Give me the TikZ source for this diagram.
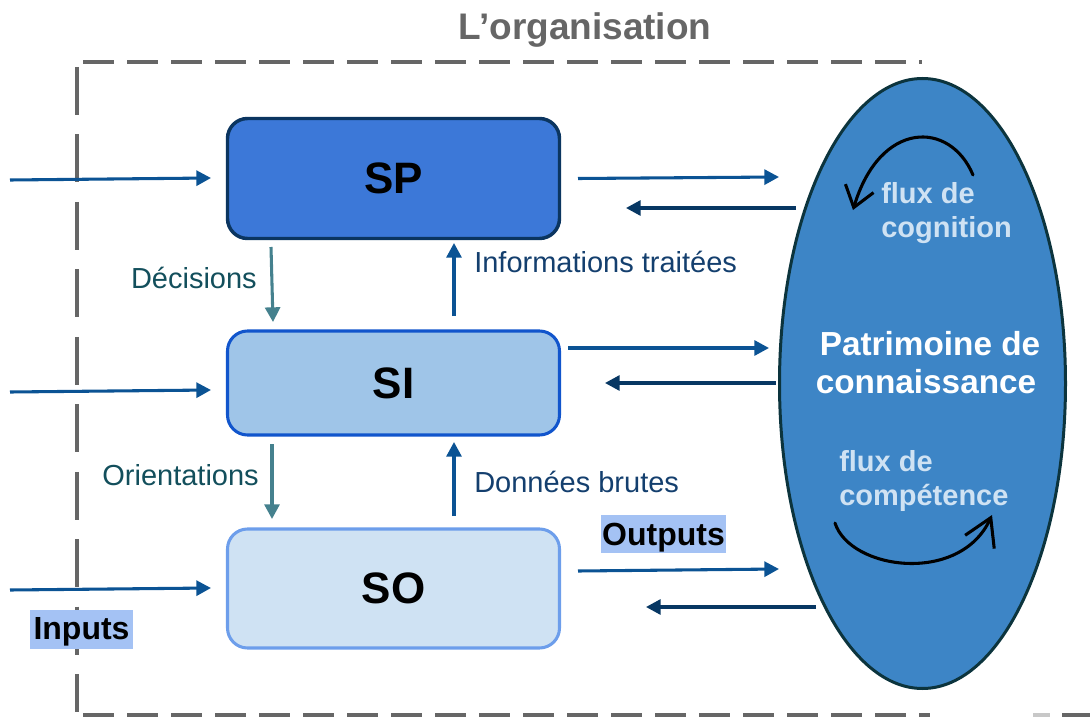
\documentclass[tikz,border=0pt]{standalone}
\usepackage{fontspec}
\setmainfont{Liberation Sans}
\usetikzlibrary{arrows.meta,shapes.geometric,calc}

\definecolor{frame}{HTML}{666666}
\definecolor{framelight}{HTML}{C8C8C8}
\definecolor{spfill}{HTML}{3C78D8}
\definecolor{spline}{HTML}{0B3560}
\definecolor{sifill}{HTML}{9FC5E8}
\definecolor{siline}{HTML}{1155CC}
\definecolor{sofill}{HTML}{CFE2F3}
\definecolor{soline}{HTML}{6D9EEB}
\definecolor{knfill}{HTML}{3D85C6}
\definecolor{knline}{HTML}{0C343D}
\definecolor{arrblue}{HTML}{0B5394}
\definecolor{arrnavy}{HTML}{073763}
\definecolor{arrteal}{HTML}{45818E}
\definecolor{txtteal}{HTML}{134F5C}
\definecolor{txtnavy}{HTML}{143F6E}
\definecolor{paleblue}{HTML}{CFE2F3}
\definecolor{hilite}{HTML}{A4C2F4}

\begin{document}
\begin{tikzpicture}[x=0.75pt,y=-0.75pt,
  framedash/.style={draw=frame, line width=3pt, dash pattern=on 23.25pt off 9.75pt},
  framedashv/.style={draw=frame, line width=3pt, dash pattern=on 36pt off 14.6pt},
  box/.style={rectangle, rounded corners=15pt, minimum width=249pt, inner sep=0pt,
    outer sep=0pt, line width=2.3pt, font=\fontsize{33pt}{36pt}\selectfont\bfseries},
  fwd/.style={draw=arrblue, line width=2.3pt, -{Triangle[length=11pt,width=11.25pt]}},
  bwd/.style={fwd, draw=arrnavy},
  vdown/.style={fwd, draw=arrteal},
  vup/.style={fwd},
  edgelbl/.style={inner sep=0pt, font=\fontsize{21.75pt}{26pt}\selectfont},
  fluxlbl/.style={inner sep=0pt, anchor=base west, text=paleblue,
    font=\fontsize{21.75pt}{26pt}\selectfont\bfseries},
  patlbl/.style={inner sep=0pt, anchor=base, text=white,
    font=\fontsize{25pt}{30pt}\selectfont\bfseries},
  hl/.style={fill=hilite, inner ysep=0pt, anchor=base,
    font=\fontsize{24pt}{28pt}\selectfont\bfseries},
  hand/.style={draw=black, line width=2.3pt, line cap=round}
]
\useasboundingbox (0,0) rectangle (1090,717);

% title
\node[anchor=base, text=frame, inner sep=0pt,
  font=\fontsize{27.75pt}{32pt}\selectfont\bfseries] (title) at (585,40) {L’organisation};

% dashed frame of the organisation
\draw[framedash] (83,62) -- (922,62);
\draw[framedashv] (77,67) -- (77,712);
\draw[framedash] (83,715) -- (930,715);
\draw[draw=framelight, line width=3pt] (1033,715) -- (1050,715);
\draw[draw=frame, line width=3pt] (1062,715) -- (1090,715);

% knowledge heritage
\node[ellipse, draw=knline, fill=knfill, line width=2.25pt, inner sep=0pt,
  minimum width=214.5pt, minimum height=457.5pt] (pk) at (922.5,383.5) {};
\node[fluxlbl] (cog1) at (881,203) {flux de};
\node[fluxlbl] (cog2) at (881,237) {cognition};
\node[patlbl] (pat1) at (930,355) {Patrimoine de};
\node[patlbl] (pat2) at (926,393) {connaissance};
\node[fluxlbl] (comp1) at (839,471) {flux de};
\node[fluxlbl] (comp2) at (839,505) {compétence};
\draw[hand, -{Straight Barb[length=15pt,width=22pt]}]
  (973,175) .. controls (950,120) and (880,120) .. (853,210);
\draw[hand, -{Straight Barb[length=20pt,width=24pt]}]
  (835,523) .. controls (850,570) and (960,585) .. (992,515);

% the three subsystems
\node[box, fill=spfill, draw=spline, line width=2.6pt, minimum height=90pt] (sp) at (393.5,178.5) {SP};
\node[box, fill=sifill, draw=siline, minimum height=78pt] (si) at (393.5,383) {SI};
\node[box, fill=sofill, draw=soline, minimum height=89.25pt] (so) at (393.5,588.5) {SO};

% inputs from the environment
\coordinate (inSP) at (10,180);
\coordinate (inSI) at (10,392);
\coordinate (inSO) at (10,590);
\draw[fwd] (inSP) -- ($(sp.west)+(-16.5,-0.5)$);
\draw[fwd] (inSI) -- ($(si.west)+(-16.5,7)$);
\draw[fwd] (inSO) -- ($(so.west)+(-16.5,-0.5)$);

% exchanges with the knowledge heritage
\coordinate (kSPin) at (779,177);
\coordinate (kSPout) at (796,208);
\coordinate (kSIin) at (769,348);
\coordinate (kSIout) at (776,383);
\coordinate (kSOin) at (779,569);
\coordinate (kSOout) at (816,607);
\draw[fwd] ($(sp.east)+(18.5,0)$) -- (kSPin);
\draw[bwd] (kSPout) -- ($(sp.east)+(66.5,29.5)$);
\draw[fwd] ($(si.east)+(8.5,-35)$) -- (kSIin);
\draw[bwd] (kSIout) -- ($(si.east)+(45.5,0)$);
\draw[fwd] ($(so.east)+(18.5,-17.5)$) -- (kSOin);
\draw[bwd] (kSOout) -- ($(so.east)+(86.5,18.5)$);

% vertical flows between subsystems
\draw[vdown] ($(sp.south west)+(43.5,8.5)$) -- ($(si.north west)+(45.5,-9)$);
\draw[vup] ($(si.north west)+(226.5,-15)$) -- ($(sp.south west)+(226.5,4.5)$);
\draw[vdown] ($(si.south west)+(44.5,9)$) -- ($(so.north west)+(44.5,-10)$);
\draw[vup] ($(so.north west)+(226.5,-13)$) -- ($(si.south west)+(226.5,7)$);

\node[edgelbl, anchor=base east, text=txtteal] (dec) at (257,288) {Décisions};
\node[edgelbl, anchor=base east, text=txtteal] (ori) at (259,485) {Orientations};
\node[edgelbl, anchor=base west, text=txtnavy] (inf) at (474,272) {Informations traitées};
\node[edgelbl, anchor=base west, text=txtnavy] (don) at (474,492) {Données brutes};

% highlighted labels
\node[hl, inner xsep=1pt, text height=22.5pt, text depth=6pt] (outl) at (663.5,545) {Outputs};
\node[hl, inner xsep=3pt, text height=21.75pt, text depth=7.5pt] (inl) at (81.5,639) {Inputs};
\end{tikzpicture}
\end{document}
